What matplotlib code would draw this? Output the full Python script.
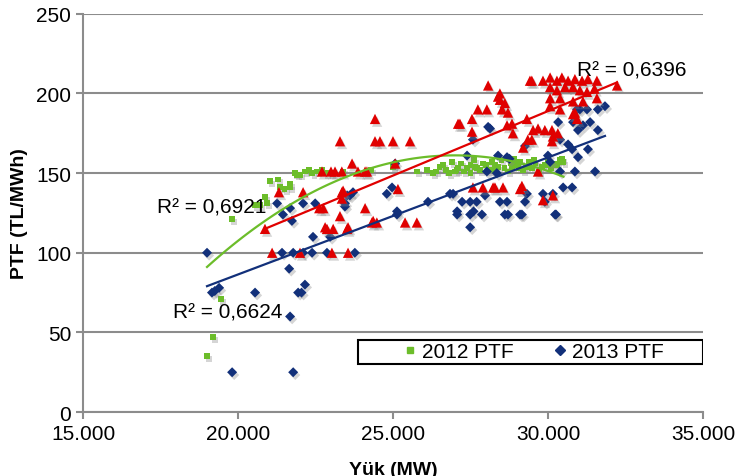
import numpy as np
import matplotlib
matplotlib.use('Agg')
import matplotlib.pyplot as plt
import matplotlib.patheffects as pe
from matplotlib.patches import Rectangle
from matplotlib.lines import Line2D
from matplotlib.ticker import FuncFormatter

plt.rcParams['font.family'] = ['Liberation Sans', 'DejaVu Sans']

# 2012 PTF (yesil kareler)
x2012 = [19000, 19190, 19450, 19810, 20550, 20700, 20870, 20935, 21030, 21290,
         21355, 21500, 21680, 21680, 21840, 21900, 22000, 22160, 22400, 22700,
         23000, 23400, 24290, 25000, 25775, 26300, 26500, 26700, 27000, 27200,
         27400, 27600, 27800, 28000, 28200, 28400, 28600, 28800, 29000, 29200,
         29400, 29600, 29800, 30000, 30200, 30400, 30500, 26900, 27500, 28900,
         29700, 22300, 22550, 22850, 26100, 26400, 26600, 26800, 27100, 27300,
         27500, 27700, 27900, 28100, 28300, 28500, 28700, 28850, 29100, 29300,
         29500, 29900, 30100, 30300, 30450, 27050, 27650, 28250, 29050, 29550]
y2012 = [35, 47, 71, 121, 130, 130, 135, 131, 145, 146,
         141, 140, 141, 143, 150, 149, 149, 151, 150, 152,
         150, 151, 152, 154, 151, 150, 154, 152, 151, 156,
         153, 158, 152, 155, 157, 154, 153, 156, 155, 152,
         157, 156, 154, 158, 156, 158, 157, 157, 150, 159,
         151, 152, 151, 150, 152, 151, 155, 150, 153, 151,
         155, 153, 156, 152, 155, 158, 151, 154, 157, 154,
         153, 155, 153, 155, 159, 152, 154, 152, 153, 158]

# 2013 PTF (lacivert karolar)
x2013 = [19000, 19160, 19250, 19390, 19810, 20550, 21260, 21420, 21450, 21650,
         21680, 21680, 21740, 21780, 21780, 21940, 22050, 22100, 22100, 22160,
         22390, 22420, 22490, 22870, 22970, 23450, 23450, 23520, 23610, 23710,
         23770, 24800, 24970, 25070, 25130, 25130, 26130, 26840, 26940, 27070,
         27070, 27230, 27490, 27490, 27490, 27600, 27700, 27870, 27970, 28070,
         27580, 27390, 28030, 28390, 28350, 28680, 28760, 28450, 28680, 28610,
         28710, 29100, 29160, 29260, 29320, 29260, 29840, 29900, 30230, 30260,
         30160, 30000, 30070, 30390, 30330, 30390, 30490, 30780, 30650, 30780,
         30870, 30970, 30810, 30970, 31130, 31030, 31260, 31290, 31360, 31520,
         31610, 31610, 31840, 30940, 28130]
y2013 = [100, 75, 76, 78, 25, 75, 131, 100, 124, 90,
         60, 128, 120, 25, 100, 75, 75, 100, 131, 80,
         100, 110, 131, 100, 110, 131, 129, 136, 136, 138,
         100, 137, 141, 156, 124, 126, 132, 137, 137, 124,
         126, 132, 132, 124, 116, 126, 132, 124, 136, 179,
         171, 161, 151, 161, 150, 160, 159, 132, 132, 124,
         124, 124, 124, 132, 137, 167, 137, 132, 124, 124,
         137, 161, 157, 151, 182, 171, 141, 141, 168, 165,
         151, 160, 182, 177, 180, 190, 190, 165, 182, 151,
         177, 190, 192, 190, 178]

# kirmizi seri (lejantta yok)
x2014 = [20870, 21100, 21320, 22000, 22100, 22620, 22750, 22710, 22810, 22870,
         23000, 23030, 23070, 23130, 23290, 23290, 23350, 23350, 23350, 23390,
         23520, 23550, 23550, 23680, 23870, 24100, 24100, 24160, 24320, 24360,
         24420, 24420, 24480, 24580, 25000, 25070, 25160, 25390, 25550, 25770,
         27100, 27160, 27550, 27550, 27740, 28030, 28070, 28390, 27580, 27900,
         28230, 28290, 28550, 28450, 28450, 28520, 28710, 28840, 28870, 28680,
         29320, 29520, 29680, 29900, 29480, 29350, 30130, 30320, 30160, 30130,
         29200, 29160, 29100, 29420, 29480, 29840, 30070, 30290, 30450, 30650,
         30870, 31100, 31290, 31580, 30070, 30290, 30550, 30810, 31030, 31260,
         30070, 30070, 30390, 30390, 30810, 31130, 31580, 30810, 30940, 30870,
         28610, 29840, 30160, 29680, 32230, 31500]
y2014 = [115, 100, 138, 100, 138, 128, 128, 151, 116, 115,
         151, 100, 115, 151, 170, 123, 151, 138, 134, 139,
         115, 100, 116, 156, 151, 151, 128, 151, 119, 120,
         184, 170, 119, 170, 170, 156, 140, 119, 170, 119,
         181, 181, 184, 176, 190, 190, 205, 198, 141, 141,
         141, 141, 141, 200, 196, 190, 188, 181, 175, 180,
         184, 177, 178, 177, 171, 171, 177, 175, 173, 170,
         166, 142, 140, 208, 208, 208, 210, 208, 210, 208,
         209, 208, 209, 208, 204, 202, 204, 204, 202, 201,
         197, 192, 197, 190, 195, 195, 197, 187, 184, 188,
         194, 133, 136, 151, 205, 203]

# egilim cizgileri (katsayilar)
fit2012 = [-1.094e-6, 0.05908, -636.5]
fit2013 = [0.007344, -60.5]
fit2014 = [0.00809, -53.8]
r2_labels = ['R² = 0,6921', 'R² = 0,6624', 'R² = 0,6396']

c_green = '#6cbd2a'
c_blue = '#12307a'
c_red = '#e00000'

fig = plt.figure(figsize=(7.55, 4.77), dpi=100, facecolor='white')
ax = fig.add_subplot(111)
fig.subplots_adjust(left=0.11, right=0.931, bottom=0.134, top=0.969)

shadow = [pe.SimplePatchShadow(offset=(1.5, -2), shadow_rgbFace='#888888', alpha=0.35), pe.Normal()]

ax.scatter(x2012, y2012, marker='s', s=18, color=c_green, linewidths=0, zorder=3, path_effects=shadow)
ax.scatter(x2013, y2013, marker='D', s=26, color=c_blue, linewidths=0, zorder=4, path_effects=shadow)
ax.scatter(x2014, y2014, marker='^', s=55, color=c_red, linewidths=0, zorder=5, path_effects=shadow)

for xs, coef, col in [(x2012, fit2012, c_green), (x2013, fit2013, c_blue), (x2014, fit2014, c_red)]:
    xx = np.linspace(min(xs), max(xs), 100)
    ax.plot(xx, np.polyval(coef, xx), color=col, lw=1.6, zorder=6)

ax.text(17400, 129, r2_labels[0], fontsize=15, va='center', ha='left', zorder=7)
ax.text(17900, 63, r2_labels[1], fontsize=15, va='center', ha='left', zorder=7)
ax.text(30950, 215, r2_labels[2], fontsize=15, va='center', ha='left', zorder=7)

ax.set_xlim(15000, 35000)
ax.set_ylim(0, 250)
ax.set_xticks([15000, 20000, 25000, 30000, 35000])
ax.set_yticks([0, 50, 100, 150, 200, 250])
ax.xaxis.set_major_formatter(FuncFormatter(lambda v, p: '{:,.0f}'.format(v).replace(',', '.')))
ax.grid(axis='y', color='#8c8c8c', lw=1.5, zorder=0)
ax.set_axisbelow(True)
for s in ['top', 'right']:
    ax.spines[s].set_visible(False)
for s in ['left', 'bottom']:
    ax.spines[s].set_color('#8c8c8c')
    ax.spines[s].set_linewidth(1.5)
ax.tick_params(axis='both', colors='#8c8c8c', labelcolor='black', labelsize=15,
               length=5, width=1.5, direction='out')

ax.set_ylabel('PTF (TL/MWh)', fontsize=14, fontweight='bold', labelpad=6)
ax.set_xlabel('Yük (MW)', fontsize=14, fontweight='bold', labelpad=13)

# lejant kutusu
ax.add_patch(Rectangle((0.4435, 0.12), 0.5565, 0.061, transform=ax.transAxes,
                       fill=True, facecolor='white', edgecolor='black', lw=1.5, zorder=8))
handles = [Line2D([], [], marker='s', color=c_green, ls='none', markersize=4),
           Line2D([], [], marker='D', color=c_blue, ls='none', markersize=5)]
leg = ax.legend(handles, ['2012 PTF', '2013 PTF'], ncol=2, frameon=False, fontsize=15,
                loc='center left', bbox_to_anchor=(0.5, 0.151), handlelength=0.6,
                handletextpad=0.3, columnspacing=1.9, borderpad=0)
leg.set_zorder(9)

fig.savefig('out.png', dpi=100)
